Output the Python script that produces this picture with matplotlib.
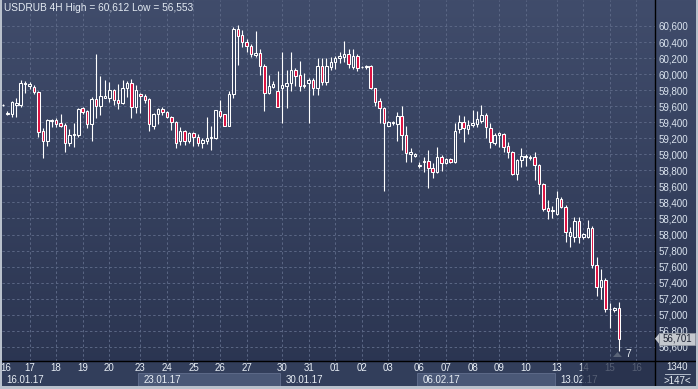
import matplotlib
matplotlib.use("Agg")
import matplotlib.pyplot as plt
import numpy as np
from matplotlib.patches import Rectangle, Polygon
from matplotlib.lines import Line2D
from matplotlib.colors import LinearSegmentedColormap
import matplotlib.transforms as mtransforms

plt.rcParams['font.family'] = ['Liberation Sans', 'DejaVu Sans']

# USDRUB 4H свечи
opens = [59615, 59505, 59502, 59615, 59615, 59872, 59856, 59843, 59781, 59290,
         59170, 59415, 59423, 59386, 59365, 59137, 59240, 59240, 59573, 59540,
         59373, 59685, 59606, 59706, 59706, 59797, 59673, 59644, 59822, 59885,
         59594, 59748, 59731, 59689, 59353, 59498, 59561, 59523, 59461, 59407,
         59166, 59290, 59166, 59265, 59211, 59145, 59166, 59203, 59207, 59540,
         59502, 59357, 59748, 60562, 60488, 60396, 60355, 60238, 60259, 60105,
         59760, 59843, 59789, 59822, 59856, 59885, 60051, 59989, 59856, 59885,
         59926, 59831, 60101, 59906, 60093, 60155, 60197, 60217, 60251, 60093,
         60226, 60084, 60093, 60101, 59823, 59664, 59573, 59357, 59386, 59373,
         59482, 59240, 59000, 58983, 58858, 58900, 58920, 58825, 58784, 58962,
         58887, 58937, 58908, 59311, 59399, 59320, 59366, 59378, 59420, 59490,
         59324, 59137, 59241, 59253, 59104, 59033, 58750, 58929, 58970, 58950,
         58962, 58867, 58630, 58326, 58293, 58256, 58439, 58339, 57981, 57973,
         58168, 57973, 57973, 58085, 57620, 57349, 57433, 57067, 57058, 57079]
highs = [59630, 59540, 59665, 59698, 59926, 59914, 59906, 59864, 59789, 59324,
         59440, 59440, 59448, 59502, 59386, 59311, 59390, 59573, 59594, 59552,
         59719, 60246, 59976, 59926, 59906, 59814, 59872, 59926, 59914, 59939,
         59864, 59768, 59756, 59706, 59519, 59581, 59590, 59544, 59477, 59415,
         59344, 59303, 59282, 59282, 59249, 59199, 59465, 59353, 59552, 59677,
         59505, 59789, 60591, 60612, 60550, 60438, 60371, 60537, 60313, 60122,
         59989, 59914, 60039, 60271, 60051, 60271, 60080, 60163, 60010, 59956,
         59956, 60197, 60197, 60205, 60217, 60230, 60271, 60413, 60313, 60313,
         60246, 60105, 60113, 60114, 59831, 59698, 59594, 59415, 59415, 59532,
         59606, 59357, 59074, 59020, 58908, 58970, 59054, 58887, 59095, 58991,
         58950, 58950, 59395, 59490, 59478, 59428, 59553, 59544, 59615, 59519,
         59386, 59270, 59282, 59270, 59158, 59041, 58937, 59075, 59010, 58990,
         59033, 58879, 58638, 58430, 58355, 58547, 58463, 58368, 58098, 58222,
         58214, 58020, 58181, 58106, 57724, 57565, 57453, 57150, 57100, 57162]
lows = [59600, 59490, 59469, 59469, 59594, 59760, 59814, 59748, 59220, 58950,
        59107, 59344, 59344, 59340, 59024, 59103, 59087, 59220, 59498, 59324,
        59166, 59448, 59490, 59698, 59656, 59615, 59565, 59623, 59719, 59448,
        59519, 59519, 59635, 59290, 59315, 59373, 59490, 59448, 59303, 59074,
        59116, 59116, 59137, 59107, 59103, 59074, 59124, 59054, 59191, 59448,
        59355, 59350, 59698, 60113, 60342, 60271, 60217, 60217, 59989, 59540,
        59752, 59831, 59586, 59386, 59581, 59789, 59852, 59789, 59823, 59386,
        59739, 59739, 59864, 59864, 60051, 60064, 60134, 60155, 60072, 60064,
        60039, 60072, 60064, 59814, 59606, 59386, 58545, 59357, 59365, 59166,
        59054, 58908, 58908, 58970, 58825, 58783, 58575, 58700, 58771, 58796,
        58880, 58896, 58896, 59262, 59158, 59253, 59345, 59336, 59386, 59199,
        59075, 59116, 59095, 59033, 58950, 58742, 58680, 58846, 58855, 58930,
        58680, 58505, 58297, 58189, 58202, 58243, 58326, 57911, 57840, 57911,
        57898, 57950, 57952, 57578, 57233, 57191, 57038, 56830, 57040, 56553]
closes = [59620, 59515, 59648, 59635, 59885, 59893, 59877, 59773, 59282, 59170,
          59428, 59428, 59378, 59357, 59137, 59240, 59253, 59565, 59531, 59373,
          59685, 59606, 59727, 59727, 59797, 59673, 59644, 59822, 59885, 59594,
          59797, 59723, 59681, 59373, 59498, 59565, 59523, 59461, 59398, 59137,
          59290, 59166, 59265, 59211, 59137, 59178, 59207, 59211, 59552, 59482,
          59357, 59752, 60562, 60479, 60396, 60355, 60246, 60259, 60105, 59760,
          59852, 59877, 59586, 59864, 59893, 60051, 59980, 59856, 59864, 59926,
          59831, 60101, 59906, 60101, 60147, 60205, 60230, 60251, 60122, 60226,
          60072, 60093, 60105, 59823, 59656, 59573, 59386, 59398, 59398, 59482,
          59240, 59012, 59033, 59004, 58866, 58920, 58825, 58783, 58971, 58887,
          58937, 58908, 59295, 59399, 59324, 59361, 59386, 59440, 59490, 59336,
          59149, 59241, 59262, 59095, 59033, 58750, 58929, 58979, 58979, 58970,
          58867, 58630, 58314, 58293, 58300, 58451, 58339, 58036, 58036, 58172,
          57973, 58002, 58077, 57620, 57349, 57433, 57067, 57067, 57079, 56701]

# подписи дней (индекс первой свечи дня)
day_pos = [0.7, 6, 12, 18, 24, 31, 37, 43, 49, 55, 63, 69, 75, 81, 87,
           94, 100, 106, 112, 118, 125, 131, 137, 143]
day_labels = ['16', '17', '18', '19', '20', '23', '24', '25', '26', '27', '30', '31',
              '01', '02', '03', '06', '07', '08', '09', '10', '13', '14', '15', '16']
week_pos = [0, 31, 63, 94, 125]
week_labels = ['16.01.17', '23.01.17', '30.01.17', '06.02.17', '13.02.17']
price_ticks = list(range(56600, 60601, 200))
last_price = 56701

W, H = 698, 389
fig = plt.figure(figsize=(W / 100, H / 100), dpi=100)

# фон с градиентом
bg = fig.add_axes([0, 0, 1, 1], zorder=-5)
cmap = LinearSegmentedColormap.from_list('bg', ['#404c6b', '#2a3450'])
bg.imshow(np.linspace(0, 1, 256).reshape(-1, 1), cmap=cmap, aspect='auto',
          extent=[0, 1, 0, 1])
bg.set_xlim(0, 1)
bg.set_ylim(0, 1)
bg.axis('off')

px_left, px_right, px_bottom = 2, 655, 361
ax = fig.add_axes([px_left / W, 1 - px_bottom / H, (px_right - px_left) / W, px_bottom / H])
ax.patch.set_alpha(0)
step = 4.43
ax.set_xlim((px_left - 3) / step, (px_right - 3) / step)
ax.set_ylim(56423, 60924)
for s in ax.spines.values():
    s.set_visible(False)

grid_kw = dict(color='#5b6785', lw=0.7, ls=(0, (2.5, 2.5)), zorder=1)
for v in price_ticks:
    ax.axhline(v, **grid_kw)
for p in day_pos[1:]:
    ax.axvline(p, **grid_kw)

# свечи
red = '#dc1040'
for i in range(len(opens)):
    o, h, l, c = opens[i], highs[i], lows[i], closes[i]
    lo, hi = min(o, c), max(o, c)
    ax.vlines(i, l, lo, color='white', lw=0.8, zorder=3)
    ax.vlines(i, hi, h, color='white', lw=0.8, zorder=3)
    face = red if c < o else '#364260'
    ax.add_patch(Rectangle((i - 0.28, lo), 0.56, max(hi - lo, 4), facecolor=face,
                           edgecolor='white', lw=0.75, zorder=4))

ax.yaxis.tick_right()
ax.set_yticks(price_ticks)
ax.set_yticklabels([f'{v:,}' for v in price_ticks])
ax.tick_params(axis='y', length=0, pad=2.5, labelsize=7, labelcolor='#dbe4ef')
ax.set_xticks([])

# нижняя полоса с датами
fig.add_artist(Rectangle((0, 3 / H), 1, (px_bottom - 3) / H - (1 - 1) - (px_bottom - 361) / H * 0,
                         transform=fig.transFigure, facecolor='none', edgecolor='none'))
fig.add_artist(Rectangle((0, 1 - 386 / H), px_right / W, 25 / H, transform=fig.transFigure,
                         facecolor='#323e5b', edgecolor='none', zorder=0))
trans_x = mtransforms.blended_transform_factory(ax.transData, fig.transFigure)
ends = week_pos[1:] + [(px_right - 3) / step]
for k, (p, lab) in enumerate(zip(week_pos, week_labels)):
    if k % 2 == 1:
        fig.add_artist(Rectangle((p - 0.5, 1 - 386 / H), ends[k] - p, 13 / H, transform=trans_x,
                                 facecolor='#4a5877', edgecolor='#5c6988', lw=0.7, zorder=1))
    fig.text(p + 0.8, 1 - 380 / H, lab, transform=trans_x, fontsize=7, color='#e8eef5',
             va='center', ha='left', zorder=2)
for p, lab in zip(day_pos, day_labels):
    fig.text(p, 1 - 368 / H, lab, transform=trans_x, fontsize=7, color='#e8eef5',
             va='center', ha='center', zorder=2)
fig.add_artist(Rectangle((130.6, 1 - 386 / H), (px_right - 3) / step - 130.6, 25 / H,
                         transform=trans_x, facecolor='#26304a', alpha=0.75,
                         edgecolor='none', zorder=3))

# правая нижняя панель
fig.add_artist(Rectangle((px_right / W, 1 - 386 / H), (W - px_right) / W, 25 / H,
                         transform=fig.transFigure, facecolor='#2f3a56', edgecolor='none', zorder=0))
fig.text(677 / W, 1 - 367 / H, '1340', fontsize=7, color='#e8eef5', ha='center', va='center')
fig.add_artist(Line2D([665 / W, 690 / W], [1 - 374 / H, 1 - 374 / H], color='#c8d0dc', lw=0.6))
fig.text(677 / W, 1 - 381 / H, '>147<', fontsize=7, color='#e8eef5', ha='center', va='center')

# чёрные линии
fig.add_artist(Line2D([0, 1], [1 - px_bottom / H, 1 - px_bottom / H], color='black', lw=1, zorder=5))
fig.add_artist(Line2D([px_right / W, px_right / W], [0, 1], color='black', lw=1, zorder=5))

# рамка
fig.add_artist(Rectangle((0, 0), 2 / W, 1, transform=fig.transFigure, facecolor='#b9c1cc',
                         edgecolor='none', zorder=6))
fig.add_artist(Rectangle((0, 0), 1, 3 / H, transform=fig.transFigure, facecolor='#b9c1cc',
                         edgecolor='none', zorder=6))
fig.add_artist(Rectangle((1 - 2 / W, 0), 2 / W, 1, transform=fig.transFigure, facecolor='#b9c1cc',
                         edgecolor='none', zorder=6))

# метка текущей цены
ytag = ax.transData.transform((0, last_price))[1] / (H)
fig.add_artist(Polygon([[655 / W, ytag], [659 / W, ytag + 5 / H], [659 / W, ytag - 5 / H]],
                       closed=True, transform=fig.transFigure, facecolor='#c4c8ce',
                       edgecolor='none', zorder=7))
fig.add_artist(Rectangle((659 / W, ytag - 6 / H), 36 / W, 12 / H, transform=fig.transFigure,
                         facecolor='#c4c8ce', edgecolor='#9aa0a8', lw=0.5, zorder=7))
fig.text(677 / W, ytag, f'{last_price:,}', fontsize=7, color='#1c2233', ha='center',
         va='center', zorder=8)

# маркер снизу
tri_x = len(opens) - 1 - 0.3
fig.add_artist(Polygon([[tri_x - 1.0, 1 - 357 / H], [tri_x + 1.0, 1 - 357 / H], [tri_x, 1 - 352 / H]],
                       closed=True, transform=trans_x, facecolor='#5a6478', edgecolor='none', zorder=7))
fig.text(len(opens) - 1 + 1.5, 1 - 354 / H, '7', transform=trans_x, fontsize=7.5,
         color='#e8eef5', ha='left', va='center', zorder=7)

fig.text(4 / W, 1 - 8 / H, 'USDRUB 4H High = 60,612 Low = 56,553', fontsize=7.3,
         color='#e3eaf2', ha='left', va='center', zorder=7)

fig.savefig('out.png', dpi=100)
